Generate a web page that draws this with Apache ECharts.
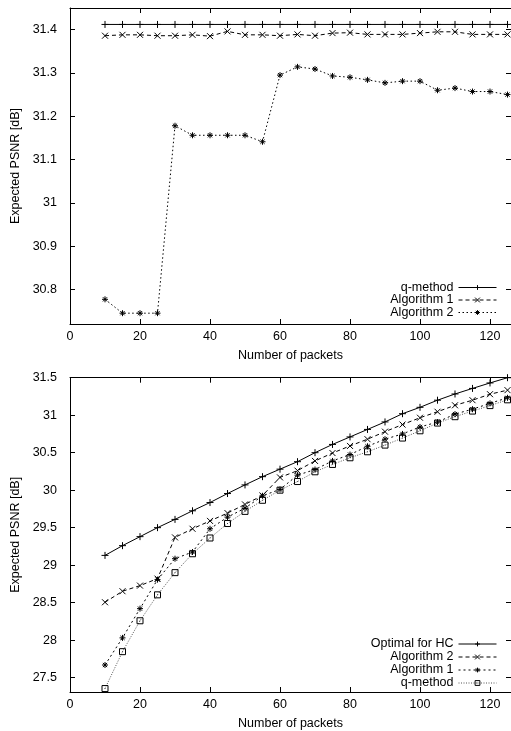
<!DOCTYPE html>
<html><head><meta charset="utf-8">
<script src="https://cdn.jsdelivr.net/npm/echarts@6/dist/echarts.min.js"></script>
<style>html,body{margin:0;padding:0;background:#fff}#c{width:511px;height:731px}</style>
</head><body><div id="c"></div>
<script>
// ---- data ----
const packets = [10,15,20,25,30,35,40,45,50,55,60,65,70,75,80,85,90,95,100,105,110,115,120,125];
const xTicks = [0,20,40,60,80,100,120];
const topYTicks = [30.8,30.9,31,31.1,31.2,31.3,31.4];
const botYTicks = [27.5,28,28.5,29,29.5,30,30.5,31,31.5];

// top panel
const topQMethod = [31.412,31.412,31.412,31.412,31.412,31.412,31.412,31.412,31.412,31.412,31.412,31.412,31.412,31.412,31.412,31.412,31.412,31.412,31.412,31.412,31.412,31.412,31.412,31.412];
const topAlg1 = [31.386,31.388,31.388,31.386,31.386,31.388,31.385,31.396,31.388,31.388,31.386,31.389,31.386,31.392,31.393,31.389,31.389,31.389,31.392,31.395,31.395,31.389,31.389,31.389];
const topAlg2 = [30.777,30.745,30.745,30.745,31.178,31.156,31.156,31.156,31.156,31.141,31.295,31.314,31.309,31.293,31.290,31.284,31.277,31.281,31.281,31.260,31.265,31.257,31.257,31.250];

// bottom panel
const botOptimalHC = [29.13,29.26,29.38,29.50,29.61,29.725,29.835,29.955,30.07,30.18,30.28,30.38,30.50,30.61,30.71,30.81,30.91,31.02,31.105,31.2,31.283,31.357,31.43,31.5];
const botAlg2 = [28.505,28.652,28.727,28.82,29.37,29.485,29.59,29.694,29.81,29.93,30.17,30.26,30.39,30.495,30.59,30.68,30.78,30.875,30.966,31.046,31.132,31.2,31.28,31.334];
const botAlg1 = [27.668,28.03,28.42,28.807,29.086,29.175,29.485,29.64,29.76,29.925,30.01,30.2,30.275,30.39,30.475,30.585,30.68,30.75,30.843,30.908,31.015,31.08,31.158,31.232];
const botQMethod = [27.354,27.846,28.258,28.604,28.9,29.152,29.362,29.555,29.717,29.865,30.0,30.115,30.245,30.343,30.432,30.512,30.601,30.695,30.792,30.895,30.98,31.055,31.128,31.205];

// ---- chart ----
const FONT = '"Liberation Sans", Arial, Helvetica, sans-serif';
const FS = 12.5;
const ZW = '\u200b';
const SYM = {
  plus: 'path://M0,5L10,5M5,0L5,10',
  cross: 'path://M1,1L9,9M9,1L1,9',
  star: 'path://M0,5L10,5M5,0L5,10M1.5,1.5L8.5,8.5M8.5,1.5L1.5,8.5',
  box: 'path://M0,0L10,0L10,10L0,10ZM4.5,5L5.5,5'
};
const pts = arr => packets.map((x,i)=>[x, arr[i]]);

function mkSeries(name, arr, sym, size, dash, color, gi){
  return {
    name, type:'line', xAxisIndex: gi*2, yAxisIndex: gi*2, data: pts(arr),
    symbol: sym, symbolSize: size, showSymbol: true,
    lineStyle: {color: color, width: 1, type: dash},
    itemStyle: {color: 'rgba(0,0,0,0)', borderColor: '#000', borderWidth: 1},
    emphasis: {disabled: true}, animation: false
  };
}

function xAxes(gi){
  const base = {
    type:'value', gridIndex: gi, min: 0, max: 126,
    splitLine:{show:false},
    axisLine:{show:true, onZero:false, lineStyle:{color:'#000', width:1}},
    axisTick:{show:true, inside:true, length:5, customValues: xTicks, lineStyle:{color:'#000'}},
  };
  return [
    Object.assign({}, base, {position:'bottom',
      axisLabel:{show:true, customValues: xTicks, color:'#000', fontFamily: FONT, fontSize: FS, margin: 6},
      name:'Number of packets', nameLocation:'middle', nameGap: 25,
      nameTextStyle:{color:'#000', fontFamily: FONT, fontSize: FS}}),
    Object.assign({}, base, {position:'top', axisLabel:{show:false}})
  ];
}
function yAxes(gi, mn, mx, ticks){
  const base = {
    type:'value', gridIndex: gi, min: mn, max: mx,
    splitLine:{show:false},
    axisLine:{show:true, onZero:false, lineStyle:{color:'#000', width:1}},
    axisTick:{show:true, inside:true, length:5, customValues: ticks, lineStyle:{color:'#000'}},
  };
  return [
    Object.assign({}, base, {position:'left',
      axisLabel:{show:true, customValues: ticks, color:'#000', fontFamily: FONT, fontSize: FS, margin: 13},
      name:'Expected PSNR [dB]', nameLocation:'middle', nameGap: 46, nameRotate: 90,
      nameTextStyle:{color:'#000', fontFamily: FONT, fontSize: FS}}),
    Object.assign({}, base, {position:'right', axisLabel:{show:false}})
  ];
}

const legendBase = {
  orient:'vertical', align:'right', right: 14, itemWidth: 38, itemHeight: 6,
  textStyle:{color:'#000', fontFamily: FONT, fontSize: FS, lineHeight: 12, padding:[0,0,0,0]},
  itemStyle:{borderWidth:1},
  lineStyle:{width:1},
  formatter: n => n.replace(ZW,''), selectedMode: false, inactiveColor:'#000', padding: 0
};

const option = {
  animation:false,
  backgroundColor:'#fff',
  grid:[
    {left:70, right:0, top:8, height:316, containLabel:false},
    {left:70, right:0, top:377.7, height:315, containLabel:false}
  ],
  xAxis: [...xAxes(0), ...xAxes(1)],
  yAxis: [...yAxes(0, 30.72, 31.45, topYTicks), ...yAxes(1, 27.308, 31.5, botYTicks)],
  legend:[
    Object.assign({}, legendBase, {top: 281, itemGap: -0.5, data:['q-method','Algorithm 1','Algorithm 2']}),
    Object.assign({}, legendBase, {top: 637.5, itemGap: 0, data:['Optimal for HC'+ZW,'Algorithm 2'+ZW,'Algorithm 1'+ZW,'q-method'+ZW]})
  ],
  series:[
    mkSeries('q-method', topQMethod, SYM.plus, 7, 'solid', '#000', 0),
    mkSeries('Algorithm 1', topAlg1, SYM.cross, 6, [4,3], '#000', 0),
    mkSeries('Algorithm 2', topAlg2, SYM.star, 6, [1.5,2.5], '#000', 0),
    mkSeries('Optimal for HC'+ZW, botOptimalHC, SYM.plus, 7, 'solid', '#000', 1),
    mkSeries('Algorithm 2'+ZW, botAlg2, SYM.cross, 6, [4,3], '#000', 1),
    mkSeries('Algorithm 1'+ZW, botAlg1, SYM.star, 6, [2,3], '#000', 1),
    mkSeries('q-method'+ZW, botQMethod, SYM.box, 6, [1,1.5], '#555', 1)
  ]
};
const chart = echarts.init(document.getElementById('c'), null, {renderer:'canvas'});
chart.setOption(option);
</script>
</body></html>
